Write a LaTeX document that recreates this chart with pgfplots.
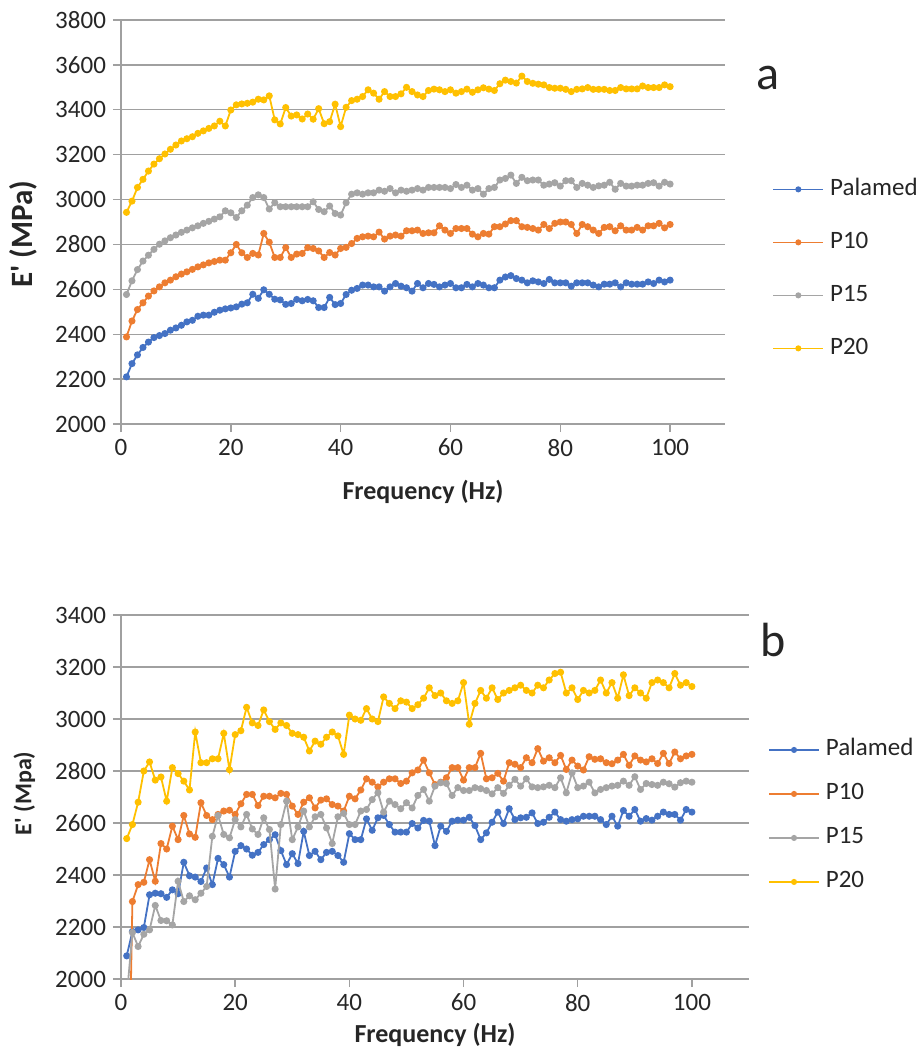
\documentclass[border=0pt]{standalone}
\usepackage{fontspec}
\setmainfont{Carlito}
\usepackage{pgfplots}
\usepackage{pgfplotstable}
\pgfplotsset{compat=1.18}
\definecolor{cPal}{HTML}{4472C4}
\definecolor{cP10}{HTML}{ED7D31}
\definecolor{cP15}{HTML}{A5A5A5}
\definecolor{cP20}{HTML}{FFC000}
\definecolor{gridgray}{HTML}{A0A0A0}
\definecolor{txt}{HTML}{262626}

% panel a: storage modulus
\pgfplotstableread{
f pal p10 p15 p20
1 2210 2388 2577 2943
2 2269 2459 2638 2993
3 2308 2510 2688 3054
4 2341 2540 2726 3090
5 2365 2570 2752 3127
6 2385 2593 2778 3158
7 2394 2611 2801 3182
8 2403 2629 2816 3203
9 2418 2641 2830 3224
10 2428 2656 2842 3243
11 2440 2668 2854 3261
12 2455 2678 2864 3271
13 2462 2689 2874 3280
14 2480 2700 2883 3295
15 2485 2709 2894 3306
16 2485 2718 2903 3317
17 2498 2724 2913 3328
18 2507 2730 2923 3349
19 2513 2730 2950 3328
20 2517 2763 2941 3399
21 2522 2800 2920 3422
22 2534 2763 2950 3426
23 2540 2742 2975 3429
24 2578 2760 3009 3434
25 2560 2753 3021 3447
26 2598 2849 3009 3444
27 2578 2810 2958 3462
28 2556 2742 2986 3355
29 2553 2742 2968 3337
30 2533 2786 2968 3410
31 2537 2742 2968 3372
32 2555 2757 2968 3377
33 2549 2760 2968 3359
34 2555 2786 2968 3381
35 2549 2782 2990 3358
36 2519 2771 2956 3405
37 2519 2742 2946 3338
38 2564 2764 2971 3347
39 2532 2753 2938 3425
40 2537 2782 2931 3325
41 2577 2787 2986 3411
42 2596 2804 3024 3441
43 2604 2827 3030 3447
44 2619 2834 3024 3459
45 2619 2837 3030 3489
46 2611 2834 3030 3474
47 2611 2855 3042 3447
48 2592 2824 3037 3481
49 2611 2837 3049 3459
50 2626 2842 3030 3459
51 2614 2837 3042 3471
52 2607 2861 3037 3500
53 2592 2861 3042 3481
54 2626 2864 3049 3466
55 2607 2849 3042 3459
56 2626 2852 3054 3486
57 2622 2852 3054 3492
58 2611 2883 3054 3489
59 2619 2864 3054 3481
60 2626 2849 3049 3489
61 2607 2871 3067 3474
62 2607 2871 3054 3481
63 2622 2871 3064 3492
64 2611 2846 3042 3478
65 2626 2834 3049 3489
66 2619 2849 3024 3498
67 2607 2846 3049 3492
68 2607 2879 3054 3486
69 2641 2879 3087 3516
70 2655 2891 3094 3532
71 2661 2906 3109 3526
72 2648 2906 3072 3519
73 2641 2879 3099 3550
74 2629 2876 3084 3526
75 2638 2871 3087 3518
76 2633 2864 3087 3514
77 2626 2889 3064 3511
78 2644 2871 3069 3499
79 2629 2894 3075 3496
80 2629 2900 3060 3496
81 2629 2900 3084 3491
82 2614 2889 3084 3481
83 2629 2849 3054 3491
84 2629 2889 3072 3493
85 2629 2879 3064 3499
86 2619 2864 3054 3491
87 2611 2849 3061 3491
88 2623 2876 3064 3491
89 2623 2879 3077 3486
90 2629 2861 3046 3486
91 2611 2883 3072 3499
92 2629 2864 3060 3493
93 2623 2864 3060 3493
94 2623 2876 3064 3493
95 2623 2864 3064 3506
96 2633 2883 3072 3499
97 2626 2883 3075 3499
98 2641 2894 3060 3499
99 2633 2874 3077 3511
100 2641 2889 3069 3503
}\tableA

% panel b
\pgfplotstableread{
f pal p10 p15 p20
1 2089 1100 1930 2540
2 2183 2298 2179 2594
3 2189 2363 2125 2680
4 2198 2372 2172 2800
5 2324 2459 2189 2835
6 2330 2376 2283 2765
7 2328 2521 2225 2777
8 2314 2500 2224 2684
9 2343 2588 2208 2813
10 2328 2536 2376 2790
11 2449 2629 2298 2761
12 2397 2558 2320 2727
13 2392 2545 2305 2950
14 2375 2678 2330 2832
15 2427 2629 2356 2832
16 2363 2613 2549 2847
17 2464 2633 2629 2847
18 2440 2646 2556 2945
19 2392 2649 2543 2805
20 2491 2633 2613 2940
21 2513 2674 2585 2955
22 2500 2710 2633 3045
23 2476 2710 2577 2985
24 2487 2667 2556 2975
25 2517 2703 2620 3035
26 2536 2703 2575 2990
27 2555 2697 2346 2960
28 2494 2714 2594 2985
29 2440 2710 2684 2975
30 2482 2665 2536 2945
31 2444 2633 2585 2940
32 2568 2680 2646 2930
33 2475 2697 2585 2877
34 2491 2658 2624 2915
35 2459 2688 2633 2903
36 2487 2693 2581 2930
37 2491 2671 2521 2950
38 2475 2665 2624 2935
39 2449 2646 2637 2864
40 2559 2703 2594 3015
41 2536 2693 2594 3000
42 2536 2727 2646 2995
43 2616 2770 2652 3040
44 2572 2757 2690 3000
45 2620 2739 2716 2990
46 2629 2757 2642 3085
47 2594 2770 2684 3060
48 2565 2770 2671 3040
49 2565 2752 2655 3070
50 2565 2761 2678 3065
51 2598 2793 2658 3040
52 2581 2804 2706 3055
53 2610 2842 2729 3080
54 2607 2793 2684 3120
55 2513 2748 2742 3090
56 2588 2757 2755 3100
57 2568 2774 2752 3070
58 2607 2813 2706 3060
59 2611 2813 2736 3070
60 2611 2765 2725 3140
61 2622 2813 2725 2980
62 2590 2813 2736 3060
63 2536 2868 2732 3110
64 2562 2770 2725 3080
65 2603 2774 2712 3120
66 2642 2791 2736 3075
67 2598 2761 2714 3100
68 2655 2832 2745 3110
69 2613 2826 2768 3120
70 2620 2813 2742 3130
71 2622 2851 2770 3110
72 2639 2832 2739 3100
73 2598 2886 2736 3130
74 2603 2838 2739 3120
75 2622 2851 2745 3150
76 2642 2832 2736 3175
77 2613 2860 2774 3180
78 2607 2806 2716 3100
79 2613 2842 2793 3120
80 2616 2819 2736 3075
81 2626 2804 2742 3110
82 2626 2855 2757 3100
83 2626 2845 2716 3110
84 2613 2847 2729 3150
85 2594 2832 2736 3100
86 2626 2828 2742 3140
87 2588 2842 2745 3080
88 2648 2864 2761 3170
89 2626 2822 2745 3090
90 2652 2858 2778 3120
91 2607 2842 2729 3100
92 2617 2835 2752 3080
93 2611 2847 2748 3140
94 2626 2829 2745 3150
95 2642 2868 2757 3140
96 2633 2829 2751 3120
97 2633 2873 2738 3175
98 2611 2847 2755 3130
99 2652 2858 2761 3140
100 2642 2864 2757 3125
}\tableB

\pgfplotsset{
  panel/.style={
    scale only axis,
    xmin=0, xmax=110, xtick={0,20,...,100},
    axis x line*=bottom, axis y line*=left,
    axis line style={gridgray, line width=0.7pt, -},
    ymajorgrids, grid style={gridgray, line width=0.7pt},
    tick style={gridgray, line width=0.7pt},
    tick align=outside, major tick length=4pt,
    ticklabel style={font=\fontsize{12.5}{14}\selectfont, text=txt},
    /pgf/number format/assume math mode=true,
    /pgf/number format/1000 sep={},
    xlabel style={font=\bfseries\fontsize{13}{15}\selectfont, text=txt,
      at={(axis description cs:0.5,0)}, anchor=center},
    ylabel style={text=txt, anchor=center},
    clip marker paths=true,
    every axis plot/.append style={line width=0.9pt, mark=*, mark size=1.3pt, mark options={solid}},
    legend cell align=left,
    legend style={draw=none, fill=none, inner sep=0pt,
      font=\fontsize{12.5}{14}\selectfont, text=txt, column sep=3pt,
      nodes={inner sep=0pt, text height=8.5pt, text depth=2.5pt}},
    legend image code/.code={\draw[##1, line width=0.8pt, mark repeat=2, mark phase=2, mark size=1.1pt]
      plot coordinates {(0pt,0pt) (12.5pt,0pt) (25pt,0pt)};},
  },
}

\begin{document}
\begin{tikzpicture}
\useasboundingbox (0pt,0pt) rectangle (460.5pt,-526.5pt);

\begin{axis}[panel,
  at={(60.5pt,-212pt)}, anchor=south west,
  width=302pt, height=202pt,
  ymin=2000, ymax=3800, ytick={2000,2200,...,3800},
  xlabel={Frequency (Hz)}, xlabel style={yshift=-34pt},
  ylabel={E\textquotesingle{} (MPa)},
  ylabel style={font=\bfseries\fontsize{15.5}{17}\selectfont,
    at={(axis description cs:-0.161,0.47)}},
  legend style={at={(1.078,0.384)}, anchor=west, row sep=15.5pt},
]
\addplot[color=cPal] table[x=f, y=pal] {\tableA};
\addlegendentry{Palamed}
\addplot[color=cP10] table[x=f, y=p10] {\tableA};
\addlegendentry{P10}
\addplot[color=cP15] table[x=f, y=p15] {\tableA};
\addlegendentry{P15}
\addplot[color=cP20] table[x=f, y=p20] {\tableA};
\addlegendentry{P20}
\end{axis}

\begin{axis}[panel,
  at={(60.5pt,-489.5pt)}, anchor=south west,
  width=314pt, height=182pt,
  ymin=2000, ymax=3400, ytick={2000,2200,...,3400},
  xlabel={Frequency (Hz)}, xlabel style={yshift=-28pt},
  ylabel={E\textquotesingle{} (Mpa)},
  ylabel style={font=\bfseries\fontsize{12}{14}\selectfont,
    at={(axis description cs:-0.154,0.51)}},
  legend style={at={(1.03,0.448)}, anchor=west, row sep=11pt},
]
\addplot[color=cPal] table[x=f, y=pal] {\tableB};
\addlegendentry{Palamed}
\addplot[color=cP10] table[x=f, y=p10] {\tableB};
\addlegendentry{P10}
\addplot[color=cP15] table[x=f, y=p15] {\tableB};
\addlegendentry{P15}
\addplot[color=cP20] table[x=f, y=p20] {\tableB};
\addlegendentry{P20}
\end{axis}

\node[font=\fontsize{24}{26}\selectfont, text=txt] at (384pt,-39pt) {a};
\node[font=\fontsize{24}{26}\selectfont, text=txt] at (386.5pt,-320pt) {b};
\end{tikzpicture}
\end{document}
